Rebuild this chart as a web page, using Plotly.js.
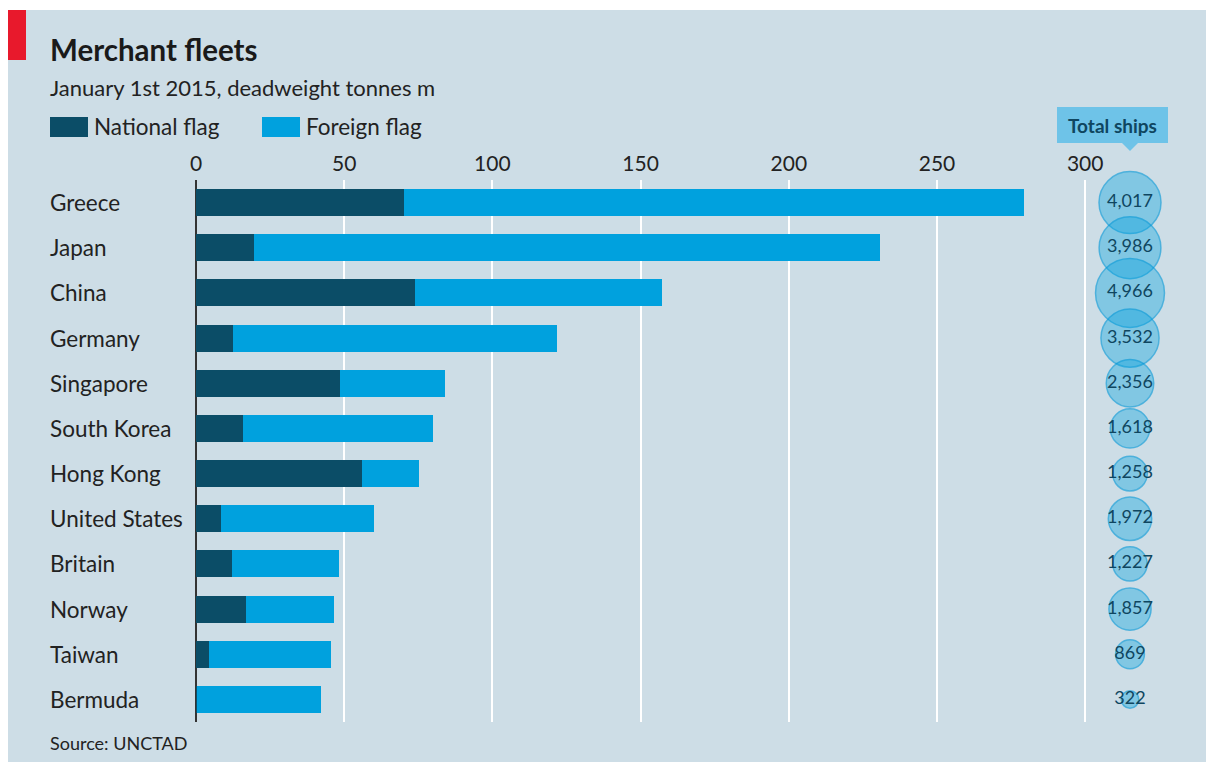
<!DOCTYPE html>
<html>
<head>
<meta charset="utf-8">
<script src="https://cdn.plot.ly/plotly-3.0.1.min.js"></script>
<style>html,body{margin:0;padding:0;background:#fff;}#chart{width:1206px;height:762px;}</style>
</head>
<body>
<div id="chart"></div>
<script>
// ---- data ----
const countries = ["Greece","Japan","China","Germany","Singapore","South Korea","Hong Kong","United States","Britain","Norway","Taiwan","Bermuda"];
const nationalFlag = [70.2, 19.6, 73.9, 12.5, 48.6, 15.9, 55.9, 8.5, 12.2, 16.9, 4.4, 0.3];
const foreignFlag  = [209.2, 211.2, 83.4, 109.3, 35.4, 64.1, 19.4, 51.6, 36.1, 29.6, 41.0, 41.9];
const totalShips   = [4017, 3986, 4966, 3532, 2356, 1618, 1258, 1972, 1227, 1857, 869, 322];
const seriesNames  = ["National flag", "Foreign flag"];
const xTicks = [0, 50, 100, 150, 200, 250, 300];

// ---- helpers ----
const W = 1206, H = 762;
const px = x => x / W;
const py = y => 1 - y / H;
const FONT = "Lato, 'Open Sans', sans-serif";
const cNat = "#0b4d67", cFor = "#00a1de";
const txt = "#222222";

const traces = [
  {type:"bar", orientation:"h", name:seriesNames[0], y:countries, x:nationalFlag,
   marker:{color:cNat}, hoverinfo:"x+y"},
  {type:"bar", orientation:"h", name:seriesNames[1], y:countries, x:foreignFlag,
   marker:{color:cFor}, hoverinfo:"x+y"},
  {type:"scatter", mode:"markers+text", xaxis:"x2", yaxis:"y",
   x:countries.map(()=>"Total ships"), y:countries,
   text:totalShips.map(v=>v.toLocaleString("en-US")),
   textposition:"middle center",
   textfont:{family:FONT, size:18, color:"#0f4660"},
   cliponaxis:false,
   marker:{size:totalShips, sizemode:"area", sizeref:2.09,
           color:"rgba(0,161,222,0.52)", line:{color:"rgba(0,150,215,0.85)", width:1.5}},
   hoverinfo:"text+y"}
];

const shapes = [
  {type:"rect", xref:"paper", yref:"paper", x0:px(8), x1:1, y0:0, y1:py(10),
   fillcolor:"#cddde6", line:{width:0}, layer:"below"},
  {type:"rect", xref:"paper", yref:"paper", x0:px(8), x1:px(26), y0:py(60), y1:py(10),
   fillcolor:"#e8192c", line:{width:0}, layer:"below"},
  // legend swatches
  {type:"rect", xref:"paper", yref:"paper", x0:px(50), x1:px(88), y0:py(137), y1:py(117),
   fillcolor:cNat, line:{width:0}},
  {type:"rect", xref:"paper", yref:"paper", x0:px(262), x1:px(300), y0:py(137), y1:py(117),
   fillcolor:cFor, line:{width:0}},
  // Total ships label box
  {type:"rect", xref:"paper", yref:"paper", x0:px(1057), x1:px(1168), y0:py(143), y1:py(107),
   fillcolor:"#6ec3e8", line:{width:0}},
  {type:"path", xref:"paper", yref:"paper",
   path:`M ${px(1121)} ${py(142)} L ${px(1139)} ${py(142)} L ${px(1130)} ${py(151)} Z`,
   fillcolor:"#6ec3e8", line:{width:0}}
];

const annotations = [
  {xref:"paper", yref:"paper", x:px(48), y:py(49), xanchor:"left", yanchor:"middle", showarrow:false,
   text:"<b>Merchant fleets</b>", font:{family:FONT, size:29.5, color:"#1a1a1a"}},
  {xref:"paper", yref:"paper", x:px(48), y:py(88), xanchor:"left", yanchor:"middle", showarrow:false,
   text:"January 1st 2015, deadweight tonnes m", font:{family:FONT, size:22, color:txt}},
  {xref:"paper", yref:"paper", x:px(92), y:py(127), xanchor:"left", yanchor:"middle", showarrow:false,
   text:seriesNames[0], font:{family:FONT, size:22.5, color:txt}},
  {xref:"paper", yref:"paper", x:px(304), y:py(127), xanchor:"left", yanchor:"middle", showarrow:false,
   text:seriesNames[1], font:{family:FONT, size:22.5, color:txt}},
  {xref:"paper", yref:"paper", x:px(1112), y:py(125), xanchor:"center", yanchor:"middle", showarrow:false,
   text:"<b>Total ships</b>", font:{family:FONT, size:19, color:"#0f4660"}},
  {xref:"paper", yref:"paper", x:px(48), y:py(743), xanchor:"left", yanchor:"middle", showarrow:false,
   text:"Source: UNCTAD", font:{family:FONT, size:18, color:txt}}
];
countries.forEach(c => annotations.push({
  xref:"paper", yref:"y", x:px(48), y:c, xanchor:"left", yanchor:"middle", showarrow:false,
  text:c, font:{family:FONT, size:22.5, color:txt}
}));

const layout = {
  width:W, height:H,
  margin:{l:0, r:0, t:0, b:0},
  paper_bgcolor:"#ffffff", plot_bgcolor:"rgba(0,0,0,0)",
  showlegend:false,
  barmode:"stack", bargap:0.4,
  font:{family:FONT, color:txt},
  xaxis:{domain:[px(196), px(1100)], range:[0, 305], side:"top",
         tickvals:xTicks, ticktext:xTicks.map(String),
         tickfont:{family:FONT, size:21, color:txt},
         showgrid:true, gridcolor:"#ffffff", gridwidth:2,
         zeroline:true, zerolinecolor:"#333333", zerolinewidth:1.5,
         showline:false, ticks:"", ticklabelstandoff:4, fixedrange:true},
  xaxis2:{domain:[px(1105), px(1155)], anchor:"y", type:"category", visible:false, fixedrange:true},
  yaxis:{domain:[py(722), py(180)], range:[countries.length - 0.5, -0.5], type:"category",
         showticklabels:false, showgrid:false, zeroline:false, ticks:"", fixedrange:true},
  shapes:shapes, annotations:annotations
};

Plotly.newPlot("chart", traces, layout, {displayModeBar:false, staticPlot:true});
</script>
</body>
</html>
